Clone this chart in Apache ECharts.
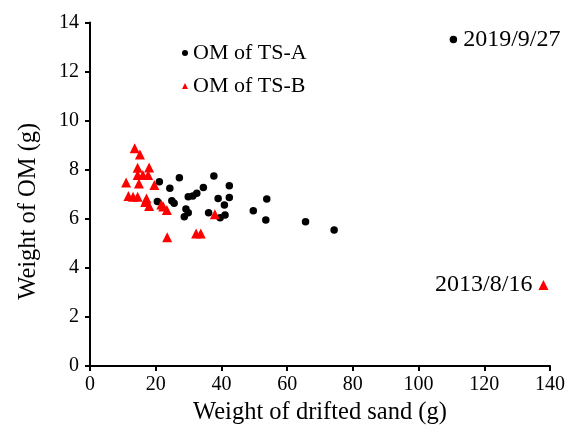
<!DOCTYPE html>
<html>
<head>
<meta charset="utf-8">
<script src="https://cdn.jsdelivr.net/npm/echarts@6/dist/echarts.min.js"></script>
<style>
  html, body { margin: 0; padding: 0; background: #fff; }
  #chart { width: 570px; height: 435px; }
</style>
</head>
<body>
<div id="chart"></div>
<script>
// Organic matter (OM) in trap TS-A: [drifted sand (g), OM (g)]
const sandA = [21.1, 27.2, 37.7, 24.3, 34.5, 42.4, 32.5, 31.3, 29.9, 39.0, 42.4, 20.5, 24.9, 25.6,
               40.9, 29.2, 29.9, 36.1, 28.7, 39.6, 41.1, 49.7, 53.8, 53.5, 65.6, 74.3, 110.6];
const omA   = [7.51, 7.67, 7.74, 7.24, 7.28, 7.35, 7.04, 6.93, 6.90, 6.83, 6.87, 6.70, 6.74, 6.63,
               6.56, 6.40, 6.25, 6.25, 6.08, 6.04, 6.15, 6.33, 6.81, 5.95, 5.88, 5.54, 13.31];

// Organic matter (OM) in trap TS-B
const sandB = [13.6, 15.2, 14.5, 18.0, 14.5, 16.1, 17.7, 11.0, 14.9, 19.6, 11.7, 13.1, 14.5, 17.2,
               16.8, 18.0, 21.7, 22.3, 23.4, 38.0, 23.5, 32.3, 33.7, 138.0];
const omB   = [8.87, 8.62, 8.08, 8.09, 7.78, 7.78, 7.78, 7.48, 7.44, 7.38, 6.93, 6.90, 6.90, 6.83,
               6.68, 6.52, 6.58, 6.50, 6.36, 6.18, 5.25, 5.40, 5.40, 3.30];

// Dated outlier samples (index into each series)
const noteA = { index: 26, text: '2019/9/27' };
const noteB = { index: 23, text: '2013/8/16' };

const seriesNames = ['OM of TS-A', 'OM of TS-B'];
const FONT = '"Liberation Serif", "Times New Roman", serif';

function buildData(xs, ys, note, position) {
  return xs.map((x, i) => {
    const item = { value: [x, ys[i]] };
    if (i === note.index) {
      item.label = {
        show: true,
        position: position,
        distance: 6,
        formatter: note.text,
        color: '#000',
        fontFamily: FONT,
        fontSize: 24
      };
    }
    return item;
  });
}

const chart = echarts.init(document.getElementById('chart'), null, { renderer: 'canvas' });

const axisCommon = {
  axisLine: { show: true, onZero: false, lineStyle: { color: '#000', width: 2 } },
  axisTick: { show: true, inside: false, length: 5, lineStyle: { color: '#000', width: 2 } },
  splitLine: { show: false },
  axisLabel: { color: '#000', fontFamily: FONT, fontSize: 20 },
  nameTextStyle: { color: '#000', fontFamily: FONT, fontSize: 24.5 }
};

chart.setOption({
  animation: false,
  backgroundColor: '#fff',
  grid: { left: 90, right: 20, top: 22.5, bottom: 69, containLabel: false },
  legend: {
    orient: 'vertical',
    left: 177,
    top: 37,
    itemWidth: 6,
    itemHeight: 6,
    itemGap: 11,
    inactiveColor: '#000',
    textStyle: { color: '#000', fontFamily: FONT, fontSize: 22, lineHeight: 22 },
    data: [
      { name: seriesNames[0], icon: 'circle' },
      { name: seriesNames[1], icon: 'triangle', itemStyle: { color: '#ff0000' } }
    ]
  },
  xAxis: Object.assign({}, axisCommon, {
    type: 'value',
    min: 0, max: 140, interval: 20,
    name: 'Weight of drifted sand (g)',
    nameLocation: 'middle',
    nameGap: 31,
    axisLabel: Object.assign({}, axisCommon.axisLabel, { margin: 9 })
  }),
  yAxis: Object.assign({}, axisCommon, {
    type: 'value',
    min: 0, max: 14, interval: 2,
    name: 'Weight of OM (g)',
    nameLocation: 'middle',
    nameGap: 49,
    nameTextStyle: Object.assign({}, axisCommon.nameTextStyle, { padding: [0, 34, 0, 0] }),
    axisLabel: Object.assign({}, axisCommon.axisLabel, { margin: 11 })
  }),
  series: [
    {
      name: seriesNames[0],
      type: 'scatter',
      symbol: 'circle',
      symbolSize: 7.5,
      itemStyle: { color: '#000', opacity: 1 },
      data: buildData(sandA, omA, noteA, 'right')
    },
    {
      name: seriesNames[1],
      type: 'scatter',
      symbol: 'triangle',
      symbolSize: 10,
      itemStyle: { color: '#ff0000', opacity: 1 },
      data: buildData(sandB, omB, noteB, 'left')
    }
  ]
});
</script>
</body>
</html>
